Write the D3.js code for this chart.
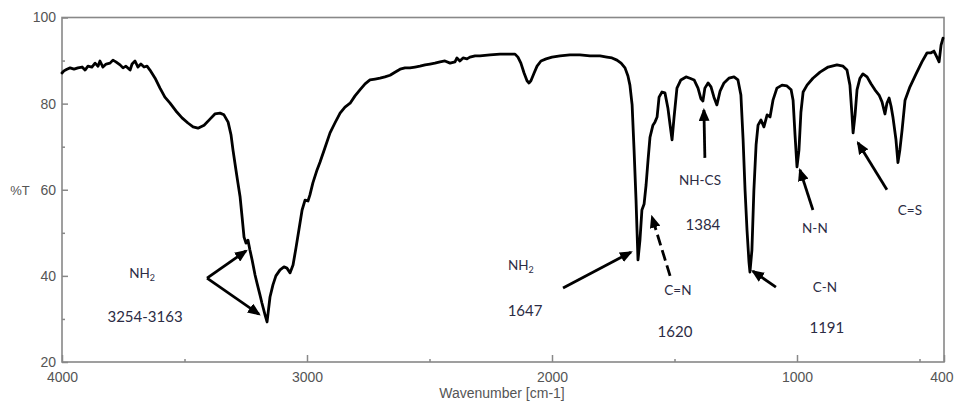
<!DOCTYPE html>
<html>
<head>
<meta charset="utf-8">
<script src="https://cdn.jsdelivr.net/npm/d3@7"></script>
<style>
  body { margin: 0; background: #fff; }
  svg { display: block; }
</style>
</head>
<body>
<div id="chart"></div>
<script>
// IR spectrum, %T vs wavenumber
const wavenumber = [
  4000, 3992, 3980, 3967, 3951, 3935, 3918, 3906, 3894, 3878, 3865, 3853, 3845, 3833, 3820, 3804,
  3792, 3780, 3763, 3751, 3739, 3722, 3714, 3702, 3690, 3678, 3665, 3653, 3641,
  3620, 3600, 3580, 3559, 3535, 3510, 3486, 3465, 3445, 3420, 3396, 3376, 3355, 3339, 3322,
  3310, 3302, 3290, 3282, 3273, 3265, 3257, 3249, 3241, 3233, 3224, 3212, 3204, 3192, 3184,
  3171, 3163, 3151, 3139, 3127, 3110, 3094, 3082, 3069, 3057, 3045, 3033, 3020, 3008, 2996,
  2988, 2976, 2959, 2947, 2927, 2906, 2886, 2865, 2845, 2824, 2804, 2784, 2763, 2743, 2722,
  2702, 2682, 2661, 2641, 2620, 2600, 2580, 2559, 2539, 2518, 2498, 2478, 2457, 2437, 2416,
  2396, 2388, 2376, 2363, 2347, 2335, 2314, 2294, 2253, 2212, 2171, 2151, 2139, 2127, 2114,
  2102, 2094, 2086, 2073, 2061, 2045, 2024, 2000, 1967, 1927, 1886, 1845, 1804, 1776, 1755,
  1735, 1718, 1702, 1690, 1682, 1673, 1665, 1657, 1653, 1649, 1641, 1633, 1624, 1616, 1608,
  1600, 1588, 1580, 1571, 1563, 1551, 1539, 1527, 1518, 1510, 1502, 1490, 1474, 1453, 1437,
  1420, 1404, 1392, 1384, 1376, 1363, 1351, 1339, 1327, 1314, 1298, 1278, 1257, 1241, 1229,
  1220, 1212, 1204, 1196, 1192, 1184, 1176, 1167, 1159, 1147, 1135, 1122, 1110, 1098, 1082,
  1061, 1041, 1024, 1016, 1008, 1000, 992, 984, 975, 959, 935, 906, 873, 837, 812,
  796, 784, 776, 771, 763, 755, 743, 731, 714, 698, 682, 665, 653, 641, 633,
  624, 616, 608, 596, 588, 580, 571, 559, 539, 514, 490, 469, 453, 441, 429,
  420, 412, 404
];
const transmittance = [
  87.1, 87.6, 88.0, 88.3, 88.0, 88.3, 88.5, 87.8, 88.7, 88.5, 89.4, 88.7, 89.9, 88.5, 89.2, 89.4,
  90.1, 89.7, 89.0, 88.3, 88.7, 87.8, 89.2, 89.9, 88.5, 89.2, 88.5, 88.7, 87.8,
  85.9, 83.6, 81.5, 80.1, 78.3, 76.7, 75.5, 74.6, 74.3, 75.0, 76.4, 77.6, 77.8, 77.4, 75.7,
  72.7, 69.2, 64.6, 61.6, 58.3, 53.7, 49.0, 47.6, 48.3, 46.0, 43.7, 40.2, 38.3, 35.6, 33.7,
  30.9, 29.3, 35.1, 37.9, 40.0, 41.4, 42.1, 41.8, 40.7, 42.5, 46.5, 50.7, 55.3, 57.6, 57.4,
  58.8, 61.6, 64.6, 66.4, 69.7, 73.2, 75.5, 77.8, 79.2, 80.1, 81.8, 83.2, 84.6, 85.5, 85.7,
  85.9, 86.2, 86.6, 87.3, 88.0, 88.3, 88.3, 88.5, 88.7, 89.0, 89.2, 89.4, 89.7, 89.9, 89.4,
  89.7, 90.6, 89.9, 90.6, 90.4, 90.8, 91.1, 91.1, 91.3, 91.5, 91.5, 91.5, 90.8, 89.4, 87.1,
  85.3, 84.8, 85.3, 87.1, 88.7, 89.9, 90.4, 90.8, 91.1, 91.3, 91.3, 91.1, 91.1, 90.8, 90.6,
  90.1, 89.4, 88.3, 86.4, 84.3, 79.7, 69.2, 57.6, 50.6, 43.7, 48.3, 55.3, 56.7, 61.1, 66.9,
  72.2, 75.0, 75.7, 76.9, 81.5, 82.7, 82.5, 79.0, 75.0, 71.6, 76.7, 83.6, 85.5, 86.2, 85.9,
  85.5, 83.6, 81.1, 80.6, 83.6, 84.8, 83.9, 81.5, 79.7, 82.9, 84.8, 85.9, 86.2, 85.5, 82.0,
  71.6, 59.9, 50.6, 43.2, 40.9, 46.0, 59.9, 70.4, 75.0, 76.2, 74.6, 77.4, 76.9, 80.8, 83.6,
  84.3, 84.1, 83.2, 80.8, 72.7, 65.3, 69.2, 78.0, 82.7, 84.3, 85.9, 87.3, 88.5, 89.0, 88.7,
  87.8, 84.3, 77.8, 73.2, 77.4, 83.2, 85.9, 86.9, 86.2, 84.6, 83.2, 82.0, 80.4, 77.6, 80.1,
  81.3, 79.4, 76.7, 71.6, 66.3, 69.3, 73.9, 80.8, 83.9, 86.9, 89.7, 91.8, 91.8, 92.2, 90.8,
  89.7, 93.6, 95.2
];

const xTicks = [4000, 3000, 2000, 1000, 400];
const xMinorTicks = [3500, 2500, 1500, 500];
const yTicks = [100, 80, 60, 40, 20];
const yMinorTicks = [90, 70, 50, 30];

// band labels: text, wavenumber, %T (label centre)
const labelText = ["NH", "3254-3163", "NH", "1647", "C=N", "1620", "NH-CS", "1384", "C-N", "1191", "N-N", "C=S"];
const labelSub  = ["2", "", "2", "", "", "", "", "", "", "", "", ""];
const labelWn   = [3673, 3661, 2127, 2110, 1486, 1498, 1396, 1384, 886, 878, 927, 539];
const labelT    = [40.7, 30.4, 42.5, 32.0, 36.7, 27.0, 62.3, 51.8, 37.4, 27.9, 51.1, 55.3];
const labelBig  = [false, true, false, true, false, true, false, true, false, true, false, false];

// arrows: from (wn, %T) to (wn, %T)
const arrowFromWn = [3408, 3408, 1955, 1518, 1376, 1086, 935, 633];
const arrowFromT  = [39.5, 39.5, 37.2, 40.0, 67.4, 37.4, 55.3, 60.0];
const arrowToWn   = [3249, 3196, 1678, 1592, 1380, 1180, 988, 751];
const arrowToT    = [45.8, 31.1, 45.5, 53.7, 78.5, 41.1, 64.6, 70.9];
const arrowDashed = [false, false, false, true, false, false, false, false];

const width = 954, height = 401;
const svg = d3.select("#chart").append("svg")
    .attr("width", width)
    .attr("height", height);

const x = d3.scaleLinear().domain([4000, 400]).range([62, 944]);
const y = d3.scaleLinear().domain([20, 100]).range([362, 17.5]);

const axisColor = "#888";
const tickFont = "'Liberation Sans', Arial, sans-serif";

// bottom axis
const xAxis = svg.append("g")
    .attr("transform", `translate(0,${y(20)})`)
    .call(d3.axisBottom(x).tickValues(xTicks).tickSize(-7).tickPadding(10).tickFormat(d3.format("d")));
svg.append("g")
    .attr("transform", `translate(0,${y(20)})`)
    .call(d3.axisBottom(x).tickValues(xMinorTicks).tickSize(-3).tickFormat(""));

// last label sits at the right edge, keep it inside the picture
xAxis.selectAll(".tick text")
    .filter(d => d === 400)
    .attr("text-anchor", "end")
    .attr("dx", 9);

// left axis
const yAxis = svg.append("g")
    .attr("transform", `translate(${x(4000)},0)`)
    .call(d3.axisLeft(y).tickValues(yTicks).tickSize(-6).tickPadding(6));
svg.append("g")
    .attr("transform", `translate(${x(4000)},0)`)
    .call(d3.axisLeft(y).tickValues(yMinorTicks).tickSize(-3).tickFormat(""));

svg.selectAll(".domain").remove();
svg.selectAll(".tick line").attr("stroke", axisColor).attr("stroke-width", 1.5);
svg.selectAll(".tick text")
    .attr("fill", "#555")
    .style("font-family", tickFont)
    .style("font-size", "14px");

// frame
svg.append("rect")
    .attr("x", x(4000))
    .attr("y", y(100))
    .attr("width", x(400) - x(4000))
    .attr("height", y(20) - y(100))
    .attr("fill", "none")
    .attr("stroke", axisColor)
    .attr("stroke-width", 1.6);

// axis titles
svg.append("text")
    .attr("x", (x(4000) + x(400)) / 2 - 1)
    .attr("y", 398)
    .attr("text-anchor", "middle")
    .attr("fill", "#555")
    .style("font-family", tickFont)
    .style("font-size", "14px")
    .text("Wavenumber [cm-1]");

svg.append("text")
    .attr("x", 20)
    .attr("y", y(60) + 5)
    .attr("text-anchor", "middle")
    .attr("fill", "#555")
    .style("font-family", tickFont)
    .style("font-size", "13px")
    .text("%T");

// spectrum
const spectrum = wavenumber.map((w, i) => ({ w: w, t: transmittance[i] }));
const line = d3.line()
    .x(d => x(d.w))
    .y(d => y(d.t));

svg.append("path")
    .datum(spectrum)
    .attr("d", line)
    .attr("fill", "none")
    .attr("stroke", "#000")
    .attr("stroke-width", 2.8)
    .attr("stroke-linejoin", "round")
    .attr("stroke-linecap", "round");

// arrows
svg.append("defs").append("marker")
    .attr("id", "head")
    .attr("markerUnits", "userSpaceOnUse")
    .attr("viewBox", "0 0 12 10")
    .attr("refX", 10)
    .attr("refY", 5)
    .attr("markerWidth", 13)
    .attr("markerHeight", 11)
    .attr("orient", "auto")
    .append("path")
    .attr("d", "M0,0 L12,5 L0,10 z")
    .attr("fill", "#000");

svg.append("g").selectAll("line")
    .data(d3.range(arrowFromWn.length))
    .enter()
    .append("line")
    .attr("x1", i => x(arrowFromWn[i]))
    .attr("y1", i => y(arrowFromT[i]))
    .attr("x2", i => x(arrowToWn[i]))
    .attr("y2", i => y(arrowToT[i]))
    .attr("stroke", "#000")
    .attr("stroke-width", 2.8)
    .attr("stroke-dasharray", i => arrowDashed[i] ? "11,5" : null)
    .attr("marker-end", "url(#head)");

// band labels
const labels = svg.append("g").selectAll("text")
    .data(d3.range(labelText.length))
    .enter()
    .append("text")
    .attr("x", i => x(labelWn[i]))
    .attr("y", i => y(labelT[i]))
    .attr("dy", "0.35em")
    .attr("text-anchor", "middle")
    .attr("fill", "#2c2c44")
    .style("font-family", "Lato, 'Open Sans', sans-serif")
    .style("font-size", i => labelBig[i] ? "15px" : "13.5px")
    .text(i => labelText[i]);

labels.filter(i => labelSub[i])
    .append("tspan")
    .attr("dy", 3)
    .style("font-size", "9px")
    .text(i => labelSub[i]);
</script>
</body>
</html>
